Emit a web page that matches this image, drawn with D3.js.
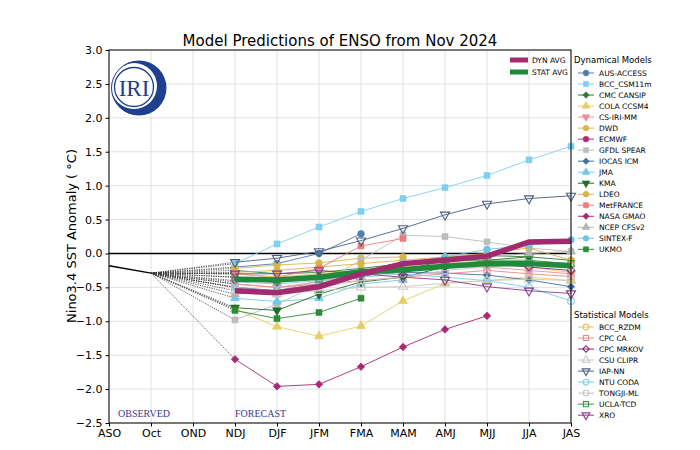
<!DOCTYPE html>
<html><head><meta charset="utf-8">
<script src="https://cdn.jsdelivr.net/npm/d3@7"></script>
<style>body{margin:0;background:#fff}svg{font-family:"DejaVu Sans",sans-serif}</style>
</head><body><svg id="c" width="700" height="450"></svg>
<script>
const months = ["ASO","Oct","OND","NDJ","DJF","JFM","FMA","MAM","AMJ","MJJ","JJA","JAS"];
const yTicks = [3.0,2.5,2.0,1.5,1.0,0.5,0.0,-0.5,-1.0,-1.5,-2.0,-2.5];
const observed = [-0.18,-0.29];
const fc = ["NDJ","DJF","JFM","FMA","MAM","AMJ","MJJ","JJA","JAS"];

const dynNames = ["AUS-ACCESS","BCC_CSM11m","CMC CANSIP","COLA CCSM4","CS-IRI-MM","DWD","ECMWF","GFDL SPEAR","IOCAS ICM","JMA","KMA","LDEO","MetFRANCE","NASA GMAO","NCEP CFSv2","SINTEX-F","UKMO"];
const dynColors = ["#4f7fae","#7fd0ee","#2f7a3a","#e6cf62","#e98fa1","#d8b74e","#b0306f","#bdbdbd","#44709c","#72c8e8","#236b2a","#d6b449","#ea7e7e","#a82a74","#b4b4b4","#6cc4e6","#2e8b3a"];
const dynShapes = ["circle","square","diamond","triangle","triangle-down","circle","circle","square","diamond","triangle","triangle-down","circle","square","diamond","triangle","circle","square"];
const dynValues = [
 [-0.20,-0.15,0.00,0.29],
 [-0.15,0.14,0.39,0.62,0.81,0.97,1.15,1.38,1.58],
 [-0.25,-0.30,-0.28,-0.22,-0.15,-0.05,-0.03,-0.05,-0.10],
 [-0.82,-1.08,-1.22,-1.07,-0.70,-0.44,-0.40,-0.35,-0.40],
 [-0.45,-0.50,-0.42,-0.30,-0.25,-0.20,-0.20,-0.25,-0.30],
 [-0.22,-0.17,-0.14,-0.07,-0.05],
 [-0.50,-0.55,-0.45,-0.35,-0.20],
 [-0.98,-0.75,-0.45,-0.10,0.27,0.25,0.17,0.08,0.03],
 [-0.35,-0.40,-0.38,-0.32,-0.28,-0.29,-0.32,-0.39,-0.49],
 [-0.66,-0.71,-0.66,-0.45,-0.39],
 [-0.80,-0.84,-0.60,-0.42,-0.35,-0.20,-0.10,-0.05],
 [-0.28,-0.25,-0.20,-0.15,-0.10,-0.05,0.00,0.08,-0.10],
 [-0.30,-0.35,-0.22,0.11,0.22],
 [-1.56,-1.96,-1.93,-1.67,-1.38,-1.12,-0.92],
 [-0.60,-0.55,-0.40,-0.30,-0.20,-0.10,-0.05,0.00,0.03],
 [-0.50,-0.55,-0.45,-0.30,-0.15,-0.05,0.06,0.12,0.20],
 [-0.84,-0.96,-0.87,-0.66]
];

const statNames = ["BCC_RZDM","CPC CA","CPC MRKOV","CSU CLIPR","IAP-NN","NTU CODA","TONGJI-ML","UCLA-TCD","XRO"];
const statColors = ["#e2c466","#e88a8a","#7b2d7b","#c8c8c8","#4a6080","#7dd0e8","#c4c4c4","#3a9a4a","#8a3a8a"];
const statShapes = ["circle","square","diamond","triangle","triangle-down","circle","circle","square","triangle-down"];
const statValues = [
 [-0.30,-0.35,-0.30,-0.25,-0.20,-0.15,-0.10,-0.20,-0.28],
 [-0.45,-0.50,-0.45,-0.40,-0.35,-0.30,-0.25,-0.30,-0.34],
 [-0.40,-0.42,-0.35,-0.30,-0.25,-0.20,-0.15,-0.20,-0.25],
 [-0.55,-0.60,-0.55,-0.50,-0.49,-0.44,-0.40,-0.38,-0.40],
 [-0.13,-0.07,0.03,0.19,0.37,0.57,0.73,0.81,0.85],
 [-0.42,-0.45,-0.40,-0.35,-0.30,-0.35,-0.40,-0.50,-0.70],
 [-0.50,-0.60,-0.50,-0.40,-0.35,-0.25,-0.20,-0.15,-0.20],
 [-0.35,-0.40,-0.38,-0.30,-0.25,-0.10,-0.10,-0.10,-0.15],
 [-0.30,-0.30,-0.25,-0.30,-0.35,-0.39,-0.49,-0.55,-0.59]
];
const dynAvg  = [-0.55,-0.58,-0.49,-0.30,-0.15,-0.10,-0.04,0.17,0.18];
const statAvg = [-0.38,-0.39,-0.35,-0.27,-0.24,-0.19,-0.15,-0.15,-0.18];

const svg = d3.select("#c");
const x = d3.scalePoint().domain(months).range([109,571]);
const y = d3.scaleLinear().domain([-2.5,3]).range([423,50]);

// grid
svg.append("g").selectAll("line").data(months).join("line")
  .attr("x1",d=>x(d)).attr("x2",d=>x(d)).attr("y1",50).attr("y2",423)
  .attr("stroke","#d9d9d9").attr("stroke-width",0.8);
svg.append("g").selectAll("line").data(yTicks).join("line")
  .attr("x1",109).attr("x2",571).attr("y1",d=>y(d)).attr("y2",d=>y(d))
  .attr("stroke","#d9d9d9").attr("stroke-width",0.8);

// logo
const lg = svg.append("g").attr("transform","translate(139,88)");
lg.append("circle").attr("r",27.5).attr("fill","#1f3f8f");
lg.append("circle").attr("cx",-5).attr("cy",-2).attr("r",23).attr("fill","#fff");
lg.append("circle").attr("cx",-5).attr("cy",-1).attr("r",19.5).attr("fill","none").attr("stroke","#1f3f8f").attr("stroke-width",1.3);
lg.append("circle").attr("cx",-1).attr("cy",0).attr("r",26.5).attr("fill","none").attr("stroke","#1f3f8f").attr("stroke-width",1);
lg.append("text").attr("x",-5).attr("y",8).attr("text-anchor","middle")
  .attr("font-family","Liberation Serif, serif").attr("font-size",23).attr("fill","#1f3f8f").text("IRI");

// zero line
svg.append("line").attr("x1",109).attr("x2",571).attr("y1",y(0)).attr("y2",y(0)).attr("stroke","#000").attr("stroke-width",1.6);

function sym(shape){
  const m = {circle:d3.symbolCircle,square:d3.symbolSquare,diamond:d3.symbolSquare,triangle:d3.symbolTriangle,"triangle-down":d3.symbolTriangle};
  return m[shape];
}
function marker(g,shape,cx,cy,color,open,size){
  const rot = shape==="triangle-down"?" rotate(180)":(shape==="diamond"?" rotate(45)":"");
  g.append("path").attr("d",d3.symbol().type(sym(shape)).size(shape==="diamond"?size*0.8:size)())
   .attr("transform",`translate(${cx},${cy})`+rot)
   .attr("fill",open?"none":color).attr("stroke",color).attr("stroke-width",open?1.1:0.6);
}

// dotted connectors from Oct
const allSeries = dynValues.concat(statValues);
svg.append("g").selectAll("line").data(allSeries).join("line")
  .attr("x1",x("Oct")).attr("y1",y(observed[1])).attr("x2",x("NDJ")).attr("y2",d=>y(d[0]))
  .attr("stroke","#333").attr("stroke-width",0.8).attr("stroke-dasharray","1.2,1.2");

const line = d3.line().x((d,i)=>x(fc[i])).y(d=>y(d));
function drawSeries(vals,color,shape,open){
  const g = svg.append("g");
  g.append("path").attr("d",line(vals)).attr("fill","none").attr("stroke",color).attr("stroke-width",1).attr("opacity",0.9);
  vals.forEach((v,i)=>marker(g,shape,x(fc[i]),y(v),color,open,36));
}
dynValues.forEach((v,i)=>drawSeries(v,dynColors[i],dynShapes[i],false));
statValues.forEach((v,i)=>drawSeries(v,statColors[i],statShapes[i],true));

// averages
svg.append("path").attr("d",line(statAvg)).attr("fill","none").attr("stroke","#1e8a3a").attr("stroke-width",5.5);
svg.append("path").attr("d",line(dynAvg)).attr("fill","none").attr("stroke","#a32a6e").attr("stroke-width",5.5);

// observed
svg.append("path").attr("d",d3.line().x((d,i)=>x(months[i])).y(d=>y(d))(observed))
  .attr("fill","none").attr("stroke","#000").attr("stroke-width",1.5);

// frame
svg.append("rect").attr("x",109).attr("y",50).attr("width",462).attr("height",373).attr("fill","none").attr("stroke","#000").attr("stroke-width",1);

// axes
svg.append("g").attr("transform","translate(109,0)")
  .call(d3.axisLeft(y).tickValues(yTicks).tickFormat(d3.format(".1f")).tickSize(3.5).tickPadding(3))
  .call(g=>g.select(".domain").remove())
  .call(g=>g.selectAll("text").attr("font-size",11).attr("font-family","DejaVu Sans").attr("fill","#000"));
svg.append("g").attr("transform","translate(0,423)")
  .call(d3.axisBottom(x).tickSize(3.5).tickPadding(3))
  .call(g=>g.select(".domain").remove())
  .call(g=>g.selectAll("text").attr("font-size",11).attr("font-family","DejaVu Sans").attr("fill","#000"));

svg.append("text").attr("x",340).attr("y",46).attr("text-anchor","middle").attr("font-size",15).text("Model Predictions of ENSO from Nov 2024");
svg.append("text").attr("transform","translate(76,236) rotate(-90)").attr("text-anchor","middle").attr("font-size",13).text("Nino3.4 SST Anomaly ( °C)");

svg.append("text").attr("x",118).attr("y",417).attr("font-family","Liberation Serif, serif").attr("font-size",10).attr("fill","#3a3a8a").text("OBSERVED");
svg.append("text").attr("x",235).attr("y",417).attr("font-family","Liberation Serif, serif").attr("font-size",10).attr("fill","#3a3a8a").text("FORECAST");

// inner legend
const il = svg.append("g");
[["DYN AVG","#a32a6e",60],["STAT AVG","#1e8a3a",72]].forEach(([t,c,yy])=>{
  il.append("line").attr("x1",510).attr("x2",528).attr("y1",yy).attr("y2",yy).attr("stroke",c).attr("stroke-width",5);
  il.append("text").attr("x",532).attr("y",yy+3).attr("font-size",7.5).text(t);
});

// right legend
const rl = svg.append("g");
rl.append("text").attr("x",574).attr("y",63).attr("font-size",8.5).text("Dynamical Models");
dynNames.forEach((n,i)=>{
  const yy = 73 + i*11.02;
  rl.append("line").attr("x1",578).attr("x2",594).attr("y1",yy).attr("y2",yy).attr("stroke",dynColors[i]).attr("stroke-width",1);
  marker(rl,dynShapes[i],586,yy,dynColors[i],false,26);
  rl.append("text").attr("x",599).attr("y",yy+2.8).attr("font-size",7.5).text(n);
});
rl.append("text").attr("x",574).attr("y",318).attr("font-size",8.5).text("Statistical Models");
statNames.forEach((n,i)=>{
  const yy = 327 + i*11.02;
  rl.append("line").attr("x1",578).attr("x2",594).attr("y1",yy).attr("y2",yy).attr("stroke",statColors[i]).attr("stroke-width",1);
  marker(rl,statShapes[i],586,yy,statColors[i],true,26);
  rl.append("text").attr("x",599).attr("y",yy+2.8).attr("font-size",7.5).text(n);
});
</script></body></html>
